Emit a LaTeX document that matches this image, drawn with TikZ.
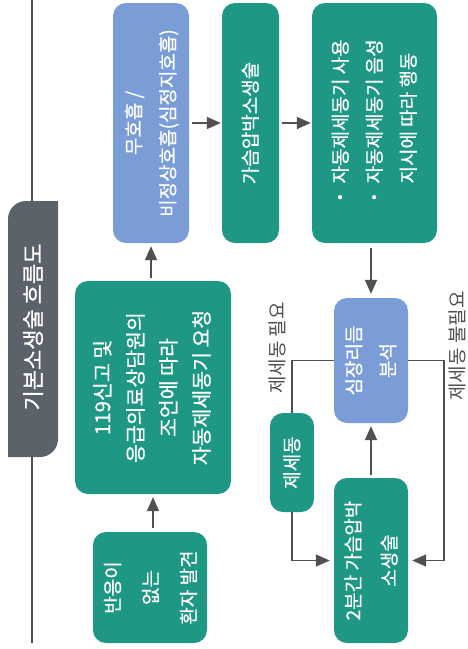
\documentclass[tikz,border=0pt]{standalone}
\usepackage{fontspec}
\setmainfont{Noto Sans CJK KR}
\newfontfamily\boxfont{Noto Sans CJK KR}[FakeBold=0.5]
\newfontfamily\titlefont{Noto Sans CJK KR}[FakeBold=0.9]
\usetikzlibrary{arrows.meta}
\definecolor{tealbox}{RGB}{30,152,132}
\definecolor{bluebox}{RGB}{122,157,216}
\definecolor{tabgray}{RGB}{92,98,106}
\definecolor{linegray}{RGB}{80,80,80}
\newcommand\rtext[2][c]{\rotatebox{90}{\begin{tabular}{@{}#1@{}}#2\end{tabular}}}
\begin{document}
\begin{tikzpicture}[x=1pt,y=-1pt,
  box/.style={rectangle, rounded corners=13pt, fill=tealbox, text=white, inner sep=0pt,
    font=\boxfont\fontsize{19}{34}\selectfont},
  bbox/.style={box, fill=bluebox},
  arr/.style={draw=linegray, line width=1.8pt, -{Triangle[length=14pt,width=12pt]}},
  conn/.style={draw=linegray, line width=1.4pt},
  lbl/.style={text=linegray, inner sep=0pt, font=\fontsize{19}{24}\selectfont},
  ttl/.style={text=white, inner sep=0pt, font=\titlefont\fontsize{22}{24}\selectfont}]
\useasboundingbox (0,0) rectangle (468,649);
% side rule and title tab
\coordinate (rtop) at (32,0);
\coordinate (rbot) at (32,643);
\draw[linegray, line width=1.2pt] (rtop) -- (rbot);
\fill[tabgray] (8,457) -- (8,219) arc[start angle=180, end angle=270, radius=18]
  -- (58,201) -- (58,439) arc[start angle=0, end angle=90, radius=18] -- cycle;
\node[ttl] (title) at (33,327) {\rotatebox{90}{기본소생술 흐름도}};
% boxes
\node[bbox, minimum width=76pt, minimum height=240pt] (n1) at (151,123)
  {\rtext{무호흡 /\\비정상호흡(심정지호흡)}};
\node[box, minimum width=57pt, minimum height=240pt] (n2) at (250.5,123)
  {\rtext{가슴압박소생술}};
\node[box, minimum width=125pt, minimum height=240pt] (n3) at (374.5,123)
  {\rtext[l]{・ 자동제세동기 사용\\・ 자동제세동기 음성\\\phantom{・ }지시에 따라 행동}};
\node[box, minimum width=156pt, minimum height=213pt, font=\boxfont\fontsize{20.5}{33}\selectfont] (n4) at (153,387.5)
  {\rtext{119신고 및\\응급의료상담원의\\조언에 따라\\자동제세동기 요청}};
\node[box, minimum width=114pt, minimum height=111pt, font=\boxfont\fontsize{19}{38}\selectfont] (n5) at (150,587.5)
  {\rtext{반응이\\없는\\환자 발견}};
\node[bbox, minimum width=74pt, minimum height=125pt] (n6) at (371,360.5)
  {\rtext{심장리듬\\분석}};
\node[box, minimum width=44pt, minimum height=99pt] (n7) at (292,462.5)
  {\rtext{제세동}};
\node[box, minimum width=74pt, minimum height=165pt, font=\boxfont\fontsize{19}{36}\selectfont] (n8) at (371,560.5)
  {\rtext{2분간 가슴압박\\소생술}};
% labels
\node[lbl] (l1) at (277,348) {\rotatebox{90}{제세동 필요}};
\node[lbl] (l2) at (457,346) {\rotatebox{90}{제세동 불필요}};
% connectors
\draw[arr, shorten <=4pt, shorten >=3pt] (n5.north -| n4.south) -- (n4.south);
\draw[arr, shorten <=3pt, shorten >=3pt] (n4.north -| n1.south) -- (n1.south);
\draw[arr, shorten <=3pt, shorten >=1pt] (n1.east) -- (n2.west);
\draw[arr, shorten <=3pt, shorten >=1pt] (n2.east) -- (n3.west);
\draw[arr, shorten <=5pt, shorten >=4pt] (n3.south -| n6.north) -- (n6.north);
\draw[arr, shorten <=3pt, shorten >=3pt] (n8.north) -- (n6.south);
\draw[conn] (n6.west) -| (n7.north);
\draw[conn, -{Triangle[length=14pt,width=12pt]}, shorten >=4pt] (n7.south) |- (n8.west);
\coordinate (rr) at (444,360.5);
\draw[conn, -{Triangle[length=14pt,width=12pt]}, shorten >=4pt] (n6.east) -- (n6.east -| rr) |- (n8.east);
\end{tikzpicture}
\end{document}
